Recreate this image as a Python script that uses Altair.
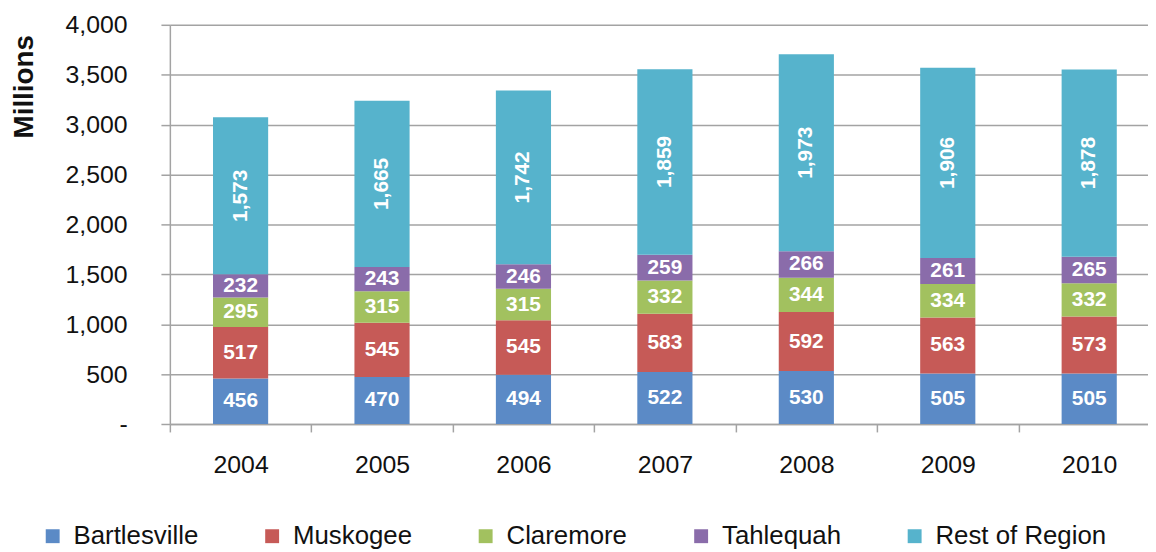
import altair as alt
import pandas as pd

years = ["2004", "2005", "2006", "2007", "2008", "2009", "2010"]
series = ["Bartlesville", "Muskogee", "Claremore", "Tahlequah", "Rest of Region"]
bartlesville = [456, 470, 494, 522, 530, 505, 505]
muskogee = [517, 545, 545, 583, 592, 563, 573]
claremore = [295, 315, 315, 332, 344, 334, 332]
tahlequah = [232, 243, 246, 259, 266, 261, 265]
rest_of_region = [1573, 1665, 1742, 1859, 1973, 1906, 1878]
colors = ["#5B8AC6", "#C65A57", "#A2C15F", "#8A6CAA", "#56B3CC"]
y_ticks = [0, 500, 1000, 1500, 2000, 2500, 3000, 3500, 4000]

values = [bartlesville, muskogee, claremore, tahlequah, rest_of_region]
rows = []
for i, (name, vals) in enumerate(zip(series, values)):
    for yr, v in zip(years, vals):
        rows.append({"year": yr, "series": name, "idx": i, "value": v})
df = pd.DataFrame(rows)

FONT = "Liberation Sans"
GRID = "#A3A3A3"

base = alt.Chart(df).transform_stack(
    stack="value", groupby=["year"], as_=["y0", "y1"],
    sort=[alt.SortField("idx", order="ascending")]
).transform_calculate(mid="(datum.y0 + datum.y1) / 2")

x_enc = alt.X(
    "year:N", title=None,
    scale=alt.Scale(paddingInner=0, paddingOuter=0, range=[0, 997]),
    axis=alt.Axis(
        labelAngle=0, labelFontSize=25, labelFont=FONT, labelColor="#111111",
        labelPadding=21, tickBand="extent", tickSize=8, tickColor=GRID,
        tickWidth=1.5, domainColor=GRID, domainWidth=1.5, grid=False,
    ),
)

y_scale = alt.Scale(domain=[0, 4000], nice=False)
y_axis = alt.Axis(
    values=y_ticks, grid=True, gridColor=GRID, gridWidth=1.5,
    domainColor=GRID, domainWidth=1.5, tickColor=GRID, tickWidth=1.5, tickSize=9,
    labelFontSize=25, labelFont=FONT, labelColor="#111111", labelPadding=34,
    labelExpr="datum.value == 0 ? '-\u00a0\u00a0\u00a0' : format(datum.value, ',')",
    title="Millions", titleFont=FONT, titleFontSize=28, titleFontWeight="bold",
    titleColor="#111111", titleAngle=270, titleAlign="left", titleBaseline="alphabetic",
    titleX=-138, titleY=114,
)

bars = base.mark_bar(width=alt.RelativeBandSize(0.39)).encode(
    x=x_enc,
    y=alt.Y("y0:Q", scale=y_scale, axis=y_axis),
    y2="y1:Q",
    color=alt.Color(
        "series:N",
        scale=alt.Scale(domain=series, range=colors),
        legend=alt.Legend(
            title=None, orient="none", direction="horizontal",
            legendX=-131, legendY=502, symbolType="square", symbolSize=196,
            symbolStrokeWidth=0, labelFontSize=26, labelFont=FONT,
            labelColor="#111111", columnPadding=61, labelOffset=8, padding=0,
            labelLimit=300,
        ),
    ),
)

labels = base.transform_filter("datum.idx < 4").mark_text(
    color="white", fontWeight="bold", fontSize=21, font=FONT, baseline="middle"
).encode(
    x=x_enc,
    y=alt.Y("mid:Q", scale=y_scale),
    text=alt.Text("value:Q", format=","),
)

labels_rot = base.transform_filter("datum.idx == 4").mark_text(
    color="white", fontWeight="bold", fontSize=21, font=FONT, baseline="middle",
    angle=270,
).encode(
    x=x_enc,
    y=alt.Y("mid:Q", scale=y_scale),
    text=alt.Text("value:Q", format=","),
)

chart = alt.layer(bars, labels, labels_rot).properties(
    width=985, height=402,
    autosize=alt.AutoSizeParams(type="none"),
    padding={"left": 163, "top": 15, "right": 0, "bottom": 127},
    background="white",
).configure_view(stroke=None)

chart.save("out.html", embed_options={"renderer": "svg", "actions": False})
